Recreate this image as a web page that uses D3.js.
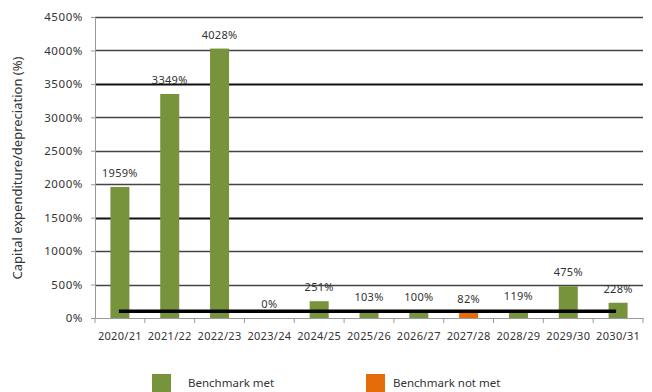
<!DOCTYPE html>
<html><head><meta charset="utf-8">
<script src="https://cdn.jsdelivr.net/npm/d3@7"></script>
<style>
body{margin:0;background:#fff;}
svg text{font-family:"Noto Sans",sans-serif;fill:#333;}
</style></head>
<body><svg id="c" width="652" height="392"></svg>
<script>
const categories = ["2020/21","2021/22","2022/23","2023/24","2024/25","2025/26","2026/27","2027/28","2028/29","2029/30","2030/31"];
const values = [1959,3349,4028,0,251,103,100,82,119,475,228];
const benchmarkMet = [true,true,true,true,true,true,true,false,true,true,true];
const benchmark = 100;
const yTicks = [0,500,1000,1500,2000,2500,3000,3500,4000,4500];
const legendLabels = ["Benchmark met","Benchmark not met"];
const colors = {met:"#77933C", notMet:"#E36C09"};

const svg = d3.select("#c");
const m = {l:95, r:643, t:17, b:318};
const x = d3.scaleBand().domain(categories).range([m.l, m.r]).paddingInner(0.62).paddingOuter(0.31);
const y = d3.scaleLinear().domain([0,4500]).range([m.b, m.t]);

// gridlines
svg.append("g").selectAll("line").data(yTicks.filter(d=>d>0)).join("line")
  .attr("x1", m.l).attr("x2", m.r)
  .attr("y1", d=>Math.round(y(d))+0.5).attr("y2", d=>Math.round(y(d))+0.5)
  .attr("stroke", d=> (d===3500||d===1500) ? "#111" : "#444")
  .attr("stroke-width", d=> (d===3500||d===1500) ? 2.2 : 1.5);

const bandStep = (m.r - m.l)/categories.length;
const cx = (c) => m.l + bandStep*(categories.indexOf(c)+0.5);

// bars
svg.append("g").selectAll("rect").data(categories).join("rect")
  .attr("x", (c)=> cx(c) - 9.5)
  .attr("width", 19)
  .attr("y", (c,i)=> y(values[i]))
  .attr("height", (c,i)=> y(0)-y(values[i]))
  .attr("fill", (c,i)=> benchmarkMet[i] ? colors.met : colors.notMet);

svg.append("g").selectAll("text").data(categories).join("text")
  .attr("x", c=>cx(c)).attr("y", (c,i)=> y(values[i]) - 10)
  .attr("text-anchor","middle").attr("font-size", 11).attr("letter-spacing",0.3)
  .text((c,i)=> values[i] + "%");

// benchmark line
svg.append("line")
  .attr("x1", cx(categories[0]) - 1).attr("x2", cx(categories[categories.length-1]) - 2)
  .attr("y1", y(benchmark)).attr("y2", y(benchmark))
  .attr("stroke","#000").attr("stroke-width",3.5);

// y axis
const yAxis = d3.axisLeft(y).tickValues(yTicks).tickFormat(d=>d+"%").tickSize(4).tickPadding(8);
const gy = svg.append("g").attr("transform",`translate(${m.l},0)`).call(yAxis);
gy.select(".domain").attr("stroke","#999");
gy.selectAll(".tick line").attr("stroke","#999");
gy.selectAll("text").attr("font-size",11.5).attr("letter-spacing",0.6).attr("font-family","Noto Sans").attr("fill","#333");

// x axis
const xAxis = d3.axisBottom(x).tickSize(0).tickPadding(14);
const gx = svg.append("g").attr("transform",`translate(0,${m.b})`).call(xAxis);
gx.select(".domain").attr("stroke","#999");
gx.selectAll("text").attr("font-size",11).attr("letter-spacing",0.3).attr("font-family","Noto Sans").attr("fill","#333");
svg.append("g").selectAll("line").data(d3.range(categories.length+1)).join("line")
  .attr("x1", i=> m.l + i*bandStep).attr("x2", i=> m.l + i*bandStep)
  .attr("y1", m.b).attr("y2", m.b+5).attr("stroke","#999");

// axis title
svg.append("text").attr("transform","translate(22,168) rotate(-90)")
  .attr("text-anchor","middle").attr("font-size",13).text("Capital expenditure/depreciation (%)");

// legend
const legX = [152, 366];
const lg = svg.append("g").selectAll("g").data(legendLabels).join("g")
  .attr("transform",(d,i)=>`translate(${legX[i]},374)`);
lg.append("rect").attr("width",19).attr("height",19).attr("fill",(d,i)=> i===0?colors.met:colors.notMet);
lg.append("text").attr("x", (d,i)=> i===0?36:27).attr("y",13).attr("font-size",11.5).text(d=>d);
</script></body></html>
